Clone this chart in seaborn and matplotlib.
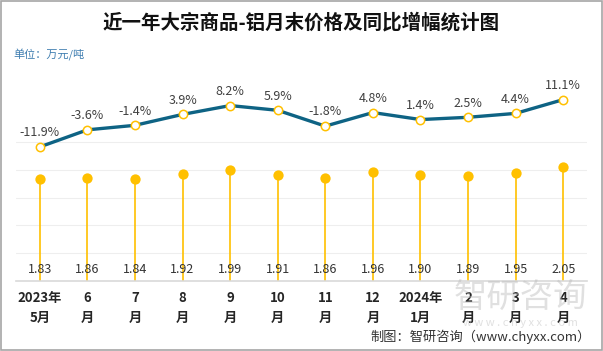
import numpy as np
import pandas as pd
import matplotlib
matplotlib.use("Agg")
import matplotlib.pyplot as plt
import seaborn as sns
from matplotlib.patches import Rectangle

months = ["2023年\n5月", "6\n月", "7\n月", "8\n月", "9\n月", "10\n月",
          "11\n月", "12\n月", "2024年\n1月", "2\n月", "3\n月", "4\n月"]
price = [1.83, 1.86, 1.84, 1.92, 1.99, 1.91, 1.86, 1.96, 1.90, 1.89, 1.95, 2.05]
yoy = [-11.9, -3.6, -1.4, 3.9, 8.2, 5.9, -1.8, 4.8, 1.4, 2.5, 4.4, 11.1]

sns.set_style("white")
plt.rcParams['font.family'] = ['Noto Sans CJK SC', 'DejaVu Sans']

df = pd.DataFrame({"month": months, "price": price, "yoy": yoy})
df["pos"] = np.arange(len(df))

YELLOW = "#FFC000"
TEAL = "#0E6384"

fig = plt.figure(figsize=(6.03, 3.51), dpi=100)
ax = fig.add_axes([16 / 603, 70 / 351, 571 / 603, 218 / 351])

# lollipop stems + heads for price
ax.vlines(df["pos"], 0, df["price"], color=YELLOW, lw=1.2, zorder=2)
sns.scatterplot(data=df, x="pos", y="price", color=YELLOW, s=55, edgecolor=YELLOW,
                linewidth=0, ax=ax, zorder=3, legend=False)
for x, v in zip(df["pos"], df["price"]):
    ax.text(x, 0.215, f"{v:.2f}", ha="center", va="center", fontsize=9, color="#333333", zorder=4)

ax.set_xlim(-0.5, len(df) - 0.5)
ax.set_ylim(0, 3.92)
ax.set_yticks([0.5, 1.0, 1.5, 2.0, 2.5])
ax.yaxis.grid(True, color="#EEEEEE", lw=0.8)
ax.set_yticklabels([])
ax.tick_params(axis="y", length=0)
ax.set_xticks(df["pos"])
ax.set_xticklabels(df["month"], fontsize=9.5, fontweight="bold", linespacing=1.55)
ax.tick_params(axis="x", length=0, pad=7)
for s in ["top", "right", "left"]:
    ax.spines[s].set_visible(False)
ax.spines["bottom"].set_color("#D9D9D9")
ax.spines["bottom"].set_linewidth(1.2)
ax.set_xlabel("")
ax.set_ylabel("")

# yoy line on secondary axis
ax2 = ax.twinx()
sns.lineplot(data=df, x="pos", y="yoy", color=TEAL, lw=2.4, ax=ax2, zorder=3)
ax2.plot(df["pos"], df["yoy"], ls="none", marker="o", ms=6, mfc="white", mec=YELLOW, mew=1.1, zorder=4)
for x, v in zip(df["pos"], df["yoy"]):
    ax2.annotate(f"{v:.1f}%", (x, v), xytext=(0, 5.5), textcoords="offset points",
                 ha="center", va="bottom", fontsize=9, color="#404040")
ax2.set_ylim(-77.1, 28.9)
ax2.set_yticks([])
ax2.set_ylabel("")
for s in ["top", "right", "left", "bottom"]:
    ax2.spines[s].set_visible(False)

fig.text(0.499, 0.937, "近一年大宗商品-铝月末价格及同比增幅统计图", ha="center", va="center",
         fontsize=14, fontweight="bold", color="#111111")
fig.text(13 / 603, 1 - 55 / 351, "单位：万元/吨", ha="left", va="center", fontsize=8, color="#3E7DB0")

# watermark
fig.text(520 / 603, 1 - 297 / 351, "智研咨询", ha="center", va="center", fontsize=24,
         color="#BBBBBB", alpha=0.45, zorder=0)
fig.text(520 / 603, 1 - 323 / 351, "w w w . c h y x x . c o m", ha="center", va="center", fontsize=8,
         color="#BBBBBB", alpha=0.45, zorder=0)

fig.text(591 / 603, 1 - 337 / 351, "制图：智研咨询（www.chyxx.com）", ha="right", va="center",
         fontsize=9.5, color="#333333")

fig.patches.append(Rectangle((0.002, 0.003), 0.996, 0.994, transform=fig.transFigure,
                             fill=False, edgecolor="#A6A6A6", lw=1.2))

fig.savefig("out.png", dpi=100)
